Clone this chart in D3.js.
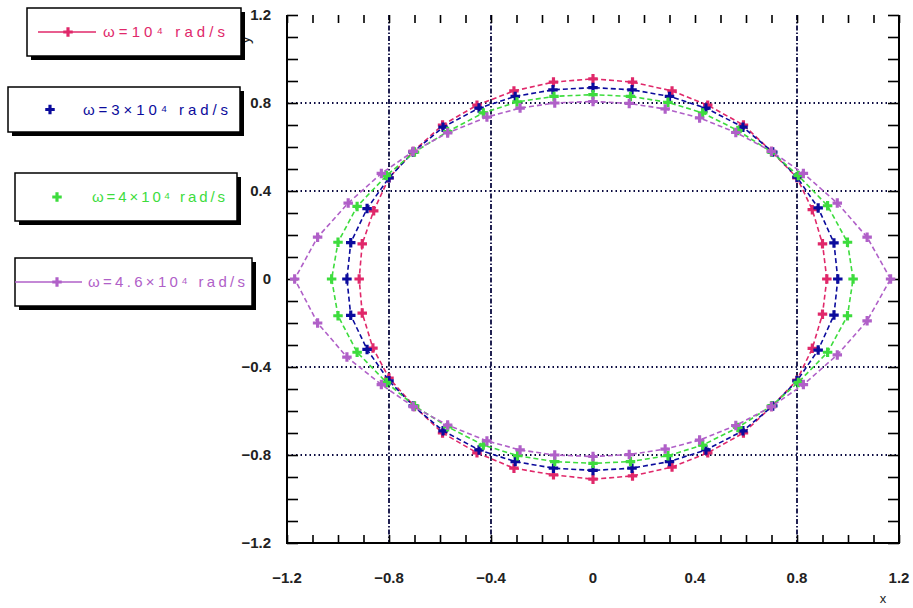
<!DOCTYPE html>
<html lang="en">
<head>
<meta charset="utf-8">
<title>Orbit shapes for several omega</title>
<script src="https://cdn.jsdelivr.net/npm/d3@7/dist/d3.min.js"></script>
<style>
  body { margin: 0; background: #fff; }
  text { font-family: "Liberation Sans", Arial, sans-serif; }
</style>
</head>
<body>
<script>
// points every 10 degrees, starting at the right (y = 0), going anticlockwise
var omega1 = [
  [0.917, 0], [0.90, 0.16], [0.86, 0.315], [0.80, 0.46], [0.70, 0.58], [0.59, 0.70], [0.45, 0.79], [0.31, 0.855], [0.155, 0.895],
  [0, 0.91], [-0.155, 0.895], [-0.31, 0.855], [-0.455, 0.79], [-0.59, 0.70], [-0.705, 0.58], [-0.80, 0.46], [-0.86, 0.31], [-0.905, 0.16],
  [-0.917, 0], [-0.905, -0.155], [-0.863, -0.314], [-0.80, -0.45], [-0.70, -0.58], [-0.59, -0.70], [-0.455, -0.79], [-0.31, -0.86], [-0.155, -0.89],
  [0, -0.91], [0.155, -0.895], [0.31, -0.855], [0.45, -0.79], [0.59, -0.70], [0.70, -0.58], [0.80, -0.46], [0.86, -0.315], [0.90, -0.16]
];
var omega2 = [
  [0.96, 0], [0.945, 0.164], [0.883, 0.323], [0.80, 0.463], [0.705, 0.577], [0.588, 0.69], [0.443, 0.777], [0.30, 0.83], [0.153, 0.86],
  [0, 0.87], [-0.157, 0.86], [-0.305, 0.83], [-0.447, 0.777], [-0.588, 0.69], [-0.705, 0.577], [-0.80, 0.46], [-0.886, 0.32], [-0.95, 0.165],
  [-0.965, 0], [-0.95, -0.165], [-0.886, -0.32], [-0.80, -0.463], [-0.705, -0.577], [-0.588, -0.69], [-0.447, -0.777], [-0.305, -0.83], [-0.155, -0.86],
  [0, -0.87], [0.153, -0.86], [0.30, -0.83], [0.443, -0.777], [0.588, -0.69], [0.705, -0.577], [0.80, -0.463], [0.883, -0.323], [0.945, -0.164]
];
var omega3 = [
  [1.02, 0], [0.998, 0.167], [0.92, 0.333], [0.805, 0.47], [0.70, 0.577], [0.568, 0.675], [0.43, 0.755], [0.294, 0.803], [0.147, 0.83],
  [0, 0.838], [-0.153, 0.83], [-0.298, 0.805], [-0.43, 0.755], [-0.57, 0.67], [-0.70, 0.577], [-0.81, 0.47], [-0.925, 0.33], [-1.0, 0.167],
  [-1.025, 0], [-1.0, -0.167], [-0.925, -0.333], [-0.81, -0.47], [-0.70, -0.577], [-0.57, -0.672], [-0.43, -0.755], [-0.296, -0.803], [-0.15, -0.83],
  [0, -0.838], [0.147, -0.83], [0.294, -0.803], [0.43, -0.755], [0.568, -0.675], [0.70, -0.577], [0.805, -0.47], [0.92, -0.333], [0.998, -0.167]
];
var omega4 = [
  [1.167, 0], [1.075, 0.19], [0.958, 0.345], [0.825, 0.48], [0.70, 0.58], [0.56, 0.666], [0.418, 0.732], [0.283, 0.773], [0.142, 0.798],
  [0, 0.807], [-0.15, 0.80], [-0.286, 0.777], [-0.416, 0.736], [-0.57, 0.664], [-0.705, 0.58], [-0.83, 0.48], [-0.96, 0.345], [-1.08, 0.19],
  [-1.17, 0], [-1.08, -0.20], [-0.965, -0.355], [-0.83, -0.48], [-0.705, -0.58], [-0.57, -0.664], [-0.416, -0.736], [-0.286, -0.777], [-0.15, -0.80],
  [0, -0.807], [0.142, -0.798], [0.283, -0.773], [0.418, -0.732], [0.56, -0.666], [0.70, -0.58], [0.825, -0.48], [0.958, -0.345], [1.075, -0.19]
];

var seriesNames = ["\u03c9=10\u2074 rad/s", "\u03c9=3\u00d710\u2074 rad/s", "\u03c9=4\u00d710\u2074 rad/s", "\u03c9=4.6\u00d710\u2074 rad/s"];
var seriesColors = ["#e0286a", "#0b0b9c", "#3ddc3d", "#b060c8"];
var majorTicks = [-1.2, -0.8, -0.4, 0, 0.4, 0.8, 1.2];
var minorTicks = d3.range(-12, 13).map(function (d) { return d / 10; });
var gridX = [-0.8, -0.4, 0.8];
var gridY = [-0.8, -0.4, 0.4, 0.8];

var w = 913, h = 608;
var svg = d3.select("body").append("svg").attr("width", w).attr("height", h);

var x = d3.scaleLinear().domain([-1.2, 1.2]).range([287, 899]);
var y = d3.scaleLinear().domain([-1.2, 1.2]).range([543, 15]);

// grid lines (dash-dot, navy)
svg.selectAll(".gx").data(gridX).enter().append("line")
   .attr("x1", function (d) { return x(d); }).attr("x2", function (d) { return x(d); })
   .attr("y1", y(1.2)).attr("y2", y(-1.2))
   .attr("stroke", "#0a0a40").attr("stroke-width", 1.8).attr("stroke-dasharray", "5,2,1.5,2");
svg.selectAll(".gy").data(gridY).enter().append("line")
   .attr("y1", function (d) { return y(d); }).attr("y2", function (d) { return y(d); })
   .attr("x1", x(-1.2)).attr("x2", x(1.2))
   .attr("stroke", "#0a0a40").attr("stroke-width", 1.8).attr("stroke-dasharray", "1.5,3");

// minor/major ticks on all four sides
function tickAxis(axis, tx, ty) {
  var g = svg.append("g").attr("transform", "translate(" + tx + "," + ty + ")").call(axis);
  g.selectAll("line").attr("stroke", "#000").attr("stroke-width", 1.6);
  g.select(".domain").remove();
  return g;
}
tickAxis(d3.axisBottom(x).tickValues(minorTicks).tickSize(-8).tickFormat(""), 0, y(-1.2));
tickAxis(d3.axisTop(x).tickValues(minorTicks).tickSize(-8).tickFormat(""), 0, y(1.2));
tickAxis(d3.axisLeft(y).tickValues(minorTicks).tickSize(-11).tickFormat(""), x(-1.2), 0);
tickAxis(d3.axisRight(y).tickValues(minorTicks).tickSize(-11).tickFormat(""), x(1.2), 0);

// axis lines (no top line)
svg.append("path")
   .attr("d", "M" + x(-1.2) + "," + y(1.2) + "V" + y(-1.2) + "H" + x(1.2) + "V" + y(1.2))
   .attr("fill", "none").attr("stroke", "#000").attr("stroke-width", 2);

// tick labels
svg.selectAll(".xl").data(majorTicks).enter().append("text")
   .attr("x", function (d) { return x(d); }).attr("y", 583)
   .attr("text-anchor", "middle").attr("font-size", 15).attr("font-weight", "bold").attr("fill", "#222")
   .text(function (d) { return d3.format("")(d); });
svg.selectAll(".yl").data(majorTicks).enter().append("text")
   .attr("x", 271).attr("y", function (d) { return y(d) + 5; })
   .attr("text-anchor", "end").attr("font-size", 15).attr("font-weight", "bold").attr("fill", "#222")
   .text(function (d) { return d3.format("")(d); });

svg.append("text").attr("transform", "translate(250,40) rotate(-90)")
   .attr("text-anchor", "middle").attr("font-size", 16).attr("fill", "#222").text("y");
svg.append("text").attr("x", 883).attr("y", 603)
   .attr("text-anchor", "middle").attr("font-size", 13).attr("fill", "#222").text("x");

// curves
var allSeries = [omega1, omega2, omega3, omega4];
var line = d3.line().x(function (d) { return x(d[0]); }).y(function (d) { return y(d[1]); }).curve(d3.curveLinearClosed);
var star = d3.symbol().type(d3.symbolCross).size(50);

allSeries.forEach(function (pts, i) {
  var g = svg.append("g");
  g.append("path").attr("d", line(pts))
   .attr("fill", "none").attr("stroke", seriesColors[i]).attr("stroke-width", 1.6)
   .attr("stroke-dasharray", "5,3");
  g.selectAll("path.pt").data(pts).enter().append("path").attr("class", "pt")
   .attr("transform", function (d) { return "translate(" + x(d[0]) + "," + y(d[1]) + ")"; })
   .attr("d", star).attr("fill", seriesColors[i]);
});

// legend boxes with drop shadow
var legendBoxes = [
  { x0: 27, y0: 8, x1: 241, y1: 56, line: [38, 96], mark: 68, tx: 103, tw: 122 },
  { x0: 8, y0: 87, x1: 240, y1: 132, line: null, mark: 50, tx: 83, tw: 145 },
  { x0: 15, y0: 173, x1: 237, y1: 221, line: null, mark: 57, tx: 92, tw: 133 },
  { x0: 15, y0: 258, x1: 252, y1: 306, line: [15, 82], mark: 57, tx: 88, tw: 157 }
];
legendBoxes.forEach(function (b, i) {
  var g = svg.append("g");
  var cy = (b.y0 + b.y1) / 2;
  g.append("rect").attr("x", b.x0 + 4).attr("y", b.y0 + 4).attr("width", b.x1 - b.x0).attr("height", b.y1 - b.y0).attr("fill", "#000");
  g.append("rect").attr("x", b.x0).attr("y", b.y0).attr("width", b.x1 - b.x0).attr("height", b.y1 - b.y0)
   .attr("fill", "#fff").attr("stroke", "#000").attr("stroke-width", 1.5);
  if (b.line) {
    g.append("line").attr("x1", b.line[0]).attr("x2", b.line[1]).attr("y1", cy).attr("y2", cy)
     .attr("stroke", seriesColors[i]).attr("stroke-width", 1.6);
  }
  g.append("path").attr("transform", "translate(" + b.mark + "," + cy + ")")
   .attr("d", star).attr("fill", seriesColors[i]);
  g.append("text").attr("x", b.tx).attr("y", cy + 5).attr("font-size", 15)
   .attr("textLength", b.tw).attr("lengthAdjust", "spacing")
   .attr("fill", seriesColors[i]).text(seriesNames[i]);
});
</script>
</body>
</html>
